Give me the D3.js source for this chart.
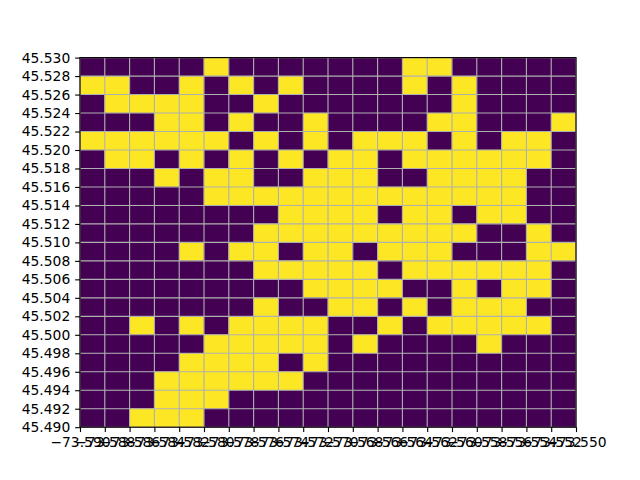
<!DOCTYPE html>
<html>
<head>
<meta charset="utf-8">
<script src="https://cdn.jsdelivr.net/npm/d3@7"></script>
<style>
  html, body { margin: 0; padding: 0; background: #fff; }
  svg { display: block; }
  text { font-family: "DejaVu Sans", sans-serif; }
</style>
</head>
<body>
<svg id="chart" width="640" height="480"></svg>
<script>
// Longitude bin starts (columns, left to right)
const lonStarts = [-73.590, -73.588, -73.586, -73.584, -73.582, -73.580, -73.578, -73.576, -73.574, -73.572,
                   -73.570, -73.568, -73.566, -73.564, -73.562, -73.560, -73.558, -73.556, -73.554, -73.552];
// Latitude bin starts (rows, top to bottom)
const latStarts = [45.528, 45.526, 45.524, 45.522, 45.520, 45.518, 45.516, 45.514, 45.512, 45.510,
                   45.508, 45.506, 45.504, 45.502, 45.500, 45.498, 45.496, 45.494, 45.492, 45.490];
const binSize = 0.002;
// Cell values (1 = yellow, 0 = purple), rows top to bottom
const gridValues = [
  [0,0,0,0,0,1,0,0,0,0, 0,0,0,1,1,0,0,0,0,0],
  [1,1,0,0,1,0,1,0,1,0, 0,0,0,1,0,1,0,0,0,0],
  [0,1,1,1,1,0,0,1,0,0, 0,0,0,0,0,1,0,0,0,0],
  [0,0,0,1,1,0,1,0,0,1, 0,0,0,0,1,1,0,0,0,1],
  [1,1,1,1,1,1,0,1,0,1, 0,1,1,1,0,1,0,1,1,0],
  [0,1,1,0,1,0,1,0,1,0, 1,1,0,1,1,1,1,1,1,0],
  [0,0,0,1,0,1,1,0,0,1, 1,1,0,0,1,1,1,1,0,0],
  [0,0,0,0,0,1,1,1,1,1, 1,1,1,1,1,1,1,1,0,0],
  [0,0,0,0,0,0,0,0,1,1, 1,1,0,1,1,0,1,1,0,0],
  [0,0,0,0,0,0,0,1,1,1, 1,1,1,1,1,1,0,0,1,0],
  [0,0,0,0,1,0,1,1,0,1, 1,0,1,1,1,0,0,0,1,1],
  [0,0,0,0,0,0,0,1,1,1, 1,1,0,1,1,1,1,1,1,0],
  [0,0,0,0,0,0,0,0,0,1, 1,1,1,0,0,1,0,1,1,0],
  [0,0,0,0,0,0,0,1,0,0, 1,1,0,1,0,1,1,1,0,0],
  [0,0,1,0,1,0,1,1,1,1, 0,0,1,0,1,1,1,1,1,0],
  [0,0,0,0,0,1,1,1,1,1, 0,1,0,0,0,0,1,0,0,0],
  [0,0,0,0,1,1,1,1,0,1, 0,0,0,0,0,0,0,0,0,0],
  [0,0,0,1,1,1,1,1,1,0, 0,0,0,0,0,0,0,0,0,0],
  [0,0,0,1,1,1,0,0,0,0, 0,0,0,0,0,0,0,0,0,0],
  [0,0,1,1,1,0,0,0,0,0, 0,0,0,0,0,0,0,0,0,0]
];
const xTicks = [-73.590, -73.588, -73.586, -73.584, -73.582, -73.580, -73.578, -73.576, -73.574, -73.572, -73.570,
                -73.568, -73.566, -73.564, -73.562, -73.560, -73.558, -73.556, -73.554, -73.552, -73.550];
const yTicks = [45.490, 45.492, 45.494, 45.496, 45.498, 45.500, 45.502, 45.504, 45.506, 45.508, 45.510,
                45.512, 45.514, 45.516, 45.518, 45.520, 45.522, 45.524, 45.526, 45.528, 45.530];
const palette = ["#440154", "#fde725"];

const svg = d3.select("#chart");
const mLeft = 80, mRight = 576, mTop = 57.6, mBottom = 427.2;
const pt = 100 / 72;

const x = d3.scaleLinear().domain([-73.590, -73.550]).range([mLeft, mRight]);
const y = d3.scaleLinear().domain([45.490, 45.530]).range([mBottom, mTop]);
const color = d3.scaleOrdinal().domain([0, 1]).range(palette);

const cells = [];
gridValues.forEach((row, r) => row.forEach((v, c) => cells.push({lon: lonStarts[c], lat: latStarts[r], v})));

svg.append("g").selectAll("rect").data(cells).join("rect")
  .attr("x", d => x(d.lon))
  .attr("y", d => y(d.lat + binSize))
  .attr("width", d => x(d.lon + binSize) - x(d.lon))
  .attr("height", d => y(d.lat) - y(d.lat + binSize))
  .attr("fill", d => color(d.v))
  .attr("stroke", d => color(d.v))
  .attr("stroke-width", 0.3);

// grid lines
const gridG = svg.append("g").attr("stroke", "#b0b0b0").attr("stroke-width", 0.8 * pt);
gridG.selectAll("line.v").data(xTicks).join("line").attr("class", "v")
  .attr("x1", d => x(d)).attr("x2", d => x(d)).attr("y1", mTop).attr("y2", mBottom);
gridG.selectAll("line.h").data(yTicks).join("line").attr("class", "h")
  .attr("y1", d => y(d)).attr("y2", d => y(d)).attr("x1", mLeft).attr("x2", mRight);

const fmt = d3.format(".3f");
const xAxis = d3.axisBottom(x).tickValues(xTicks).tickFormat(fmt).tickSize(3.5 * pt).tickPadding(3.5 * pt);
const yAxis = d3.axisLeft(y).tickValues(yTicks).tickFormat(fmt).tickSize(3.5 * pt).tickPadding(3.5 * pt);

const gx = svg.append("g").attr("transform", `translate(0,${mBottom})`).call(xAxis);
const gy = svg.append("g").attr("transform", `translate(${mLeft},0)`).call(yAxis);
[gx, gy].forEach(g => {
  g.select(".domain").remove();
  g.selectAll("line").attr("stroke", "#000").attr("stroke-width", 0.8 * pt);
  g.selectAll("text").attr("fill", "#000").style("font-size", (10 * pt) + "px")
    .style("font-family", "'DejaVu Sans', sans-serif");
});

// spines
svg.append("rect").attr("x", mLeft).attr("y", mTop).attr("width", mRight - mLeft).attr("height", mBottom - mTop)
  .attr("fill", "none").attr("stroke", "#000").attr("stroke-width", 0.8 * pt);
</script>
</body>
</html>
